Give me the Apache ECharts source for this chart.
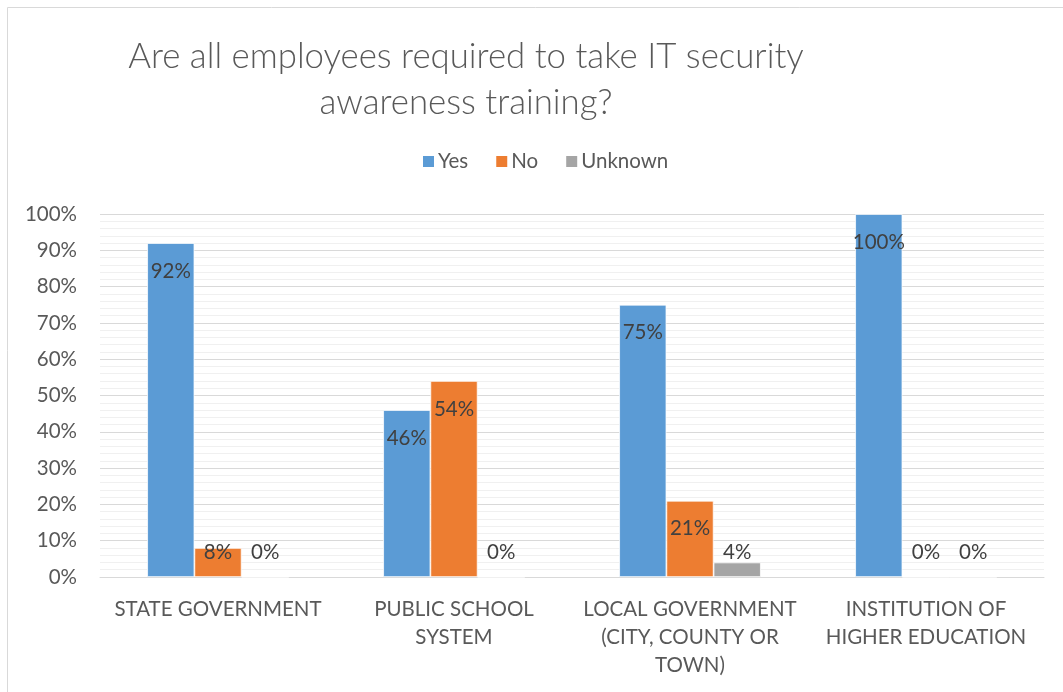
<!DOCTYPE html>
<html>
<head>
<meta charset="utf-8">
<script src="https://cdn.jsdelivr.net/npm/echarts@6/dist/echarts.min.js"></script>
<style>html,body{margin:0;padding:0;background:#fff}#c{width:1063px;height:692px}</style>
</head>
<body>
<div id="c"></div>
<script>
const titleText = 'Are all employees required to take IT security\nawareness training?';
const categories = ['STATE GOVERNMENT', 'PUBLIC SCHOOL\nSYSTEM', 'LOCAL GOVERNMENT\n(CITY, COUNTY OR\nTOWN)', 'INSTITUTION OF\nHIGHER EDUCATION'];
const seriesNames = ['Yes', 'No', 'Unknown'];
const yesValues = [92, 46, 75, 100];
const noValues = [8, 54, 21, 0];
const unknownValues = [0, 0, 4, 0];
const yTicks = [0, 10, 20, 30, 40, 50, 60, 70, 80, 90, 100];

const colors = ['#5B9BD5', '#ED7D31', '#A5A5A5'];
const FONT = 'Lato, "Open Sans", sans-serif';
const plotHeight = 363;

function items(values) {
  return values.map(v => {
    const h = v / 100 * plotHeight;
    const big = h >= 53;
    return {
      value: v,
      label: big ? { position: 'insideTop', distance: 17 } : { position: 'insideBottom', distance: 14 }
    };
  });
}

const chart = echarts.init(document.getElementById('c'), null, { renderer: 'canvas' });
const allValues = [yesValues, noValues, unknownValues];
chart.setOption({
  animation: false,
  color: colors,
  graphic: [
    { type: 'rect', shape: { x: 7.5, y: 7.5, width: 1100, height: 720 }, style: { fill: 'none', stroke: '#d9d9d9', lineWidth: 1 }, silent: true },
    { type: 'text', x: 466, y: 34, style: { text: titleText, align: 'center', verticalAlign: 'top', fill: '#595959', fontFamily: FONT, fontWeight: 300, fontSize: 34.8, lineHeight: 46 } }
  ],
  legend: {
    data: seriesNames,
    left: 416, top: 146,
    itemWidth: 13, itemHeight: 13, itemGap: 26,
    icon: 'rect',
    textStyle: { color: '#595959', fontFamily: FONT, fontSize: 20.5, padding: [0, 0, 0, -2] }
  },
  grid: { left: 100, right: 19, top: 214, bottom: 115, containLabel: false },
  xAxis: {
    type: 'category',
    data: categories,
    axisLine: { lineStyle: { color: '#d9d9d9', width: 1 } },
    axisTick: { show: false },
    axisLabel: { interval: 0, color: '#595959', fontFamily: FONT, fontSize: 20.5, lineHeight: 28, margin: 18 }
  },
  yAxis: {
    type: 'value', min: yTicks[0], max: yTicks[yTicks.length - 1], interval: 10,
    axisLine: { show: false }, axisTick: { show: false },
    axisLabel: { formatter: v => v + '%', color: '#595959', fontFamily: FONT, fontSize: 20.5, margin: 23 },
    splitLine: { lineStyle: { color: '#d9d9d9', width: 1 } },
    minorTick: { show: false, splitNumber: 5 },
    minorSplitLine: { show: true, lineStyle: { color: '#f0f0f0', width: 1 } }
  },
  series: seriesNames.map((name, i) => ({
    name, type: 'bar',
    data: items(allValues[i]),
    barGap: '0%', barCategoryGap: '40%',
    itemStyle: { color: colors[i], borderColor: '#ffffff', borderWidth: 0.75 },
    label: { show: true, formatter: p => p.value + '%', color: '#404040', fontFamily: FONT, fontSize: 20.5, lineHeight: 22 }
  }))
});
</script>
</body>
</html>
